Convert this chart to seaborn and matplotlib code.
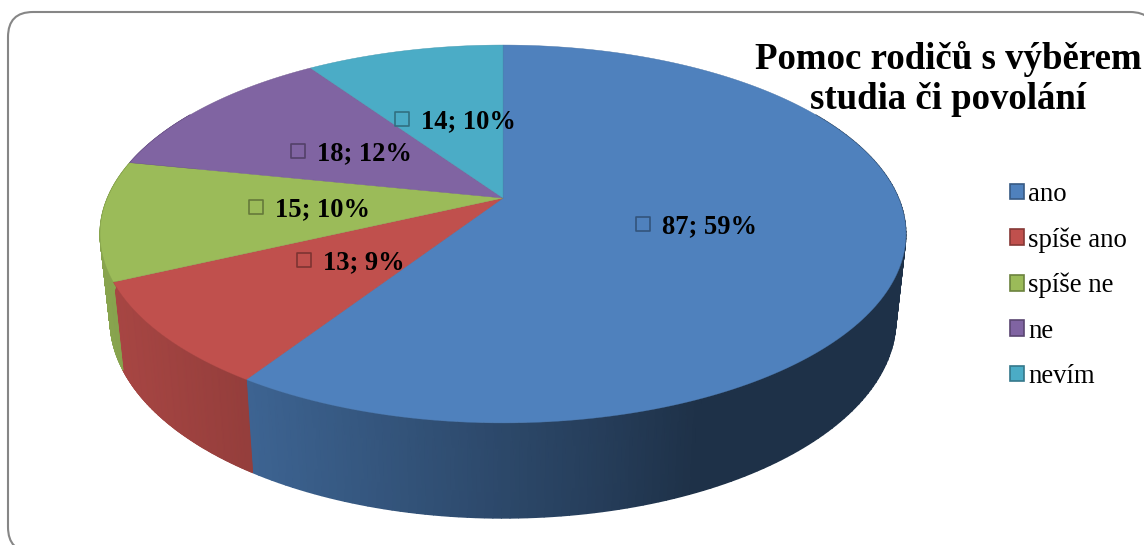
import numpy as np
import pandas as pd
import seaborn as sns
import matplotlib.pyplot as plt
from matplotlib.patches import FancyBboxPatch, Patch, Polygon

categories = ["ano", "spíše ano", "spíše ne", "ne", "nevím"]
counts = [87, 13, 15, 18, 14]
percents = [59, 9, 10, 12, 10]
title = "Pomoc rodičů s výběrem\nstudia či povolání"

# layout of the tilted pie, in pixels of the picture
CX = 503
TOP_Y, BOTTOM_Y = 198, 282
TOP_W, BOTTOM_W = 395.6, 385.8
TOP_H, BOTTOM_H = 182.1, 191.2
TILT = -0.1905
KEY_X = [643, 304, 256, 298, 402]
KEY_Y = [224, 260, 207, 151, 119]

sns.set_theme(style="white")
plt.rcParams["font.family"] = ["Liberation Serif", "DejaVu Serif"]
colors = sns.color_palette(["#4F81BD", "#C0504D", "#9BBB59", "#8064A2", "#4BACC6"])


def project(theta, w, h, y0):
    # theta runs clockwise from the top of the pie
    u, v = np.sin(theta), -np.cos(theta)
    d = 1 + TILT * v
    return CX + w * u / d, y0 + h * v / d


def shade(color, x):
    f = np.interp(x, [100, 250, 600, 700], [0.88, 0.77, 0.48, 0.38])
    return np.outer(f, color)


fig = plt.figure(figsize=(11.44, 5.45), dpi=100)
ax = fig.add_axes([0, 0, 1, 1])
ax.set_xlim(0, 1144)
ax.set_ylim(545, 0)
ax.axis("off")

ax.add_patch(FancyBboxPatch((8, 12), 1147, 540, boxstyle="round,pad=0,rounding_size=25",
                            fc="white", ec="#868686", lw=1.5))

edges = np.radians(np.cumsum([0] + counts) / sum(counts) * 360)

# side wall as a smooth mesh, only the part facing the viewer
for i, col in enumerate(colors):
    start = max(edges[i], np.radians(60))
    stop = min(edges[i + 1], np.radians(300))
    if stop <= start:
        continue
    th = np.linspace(start, stop, 150)
    xt, yt = project(th, TOP_W, TOP_H, TOP_Y)
    xb, yb = project(th, BOTTOM_W, BOTTOM_H, BOTTOM_Y)
    X = np.vstack([xt, xb])
    Y = np.vstack([yt, yb])
    rgb = np.stack([shade(col, xt), shade(col, xt)])
    ax.pcolormesh(X, Y, rgb, shading="gouraud", zorder=2)
ax.set_xlim(0, 1144)
ax.set_ylim(545, 0)

# top face
for i, col in enumerate(colors):
    th = np.linspace(edges[i], edges[i + 1], 200)
    xt, yt = project(th, TOP_W, TOP_H, TOP_Y)
    pts = np.column_stack([np.r_[CX, xt], np.r_[TOP_Y, yt]])
    ax.add_patch(Polygon(pts, fc=col, ec=tuple(c * 0.88 for c in col), lw=0.3, zorder=3))

# data labels with their little key squares
keys = pd.DataFrame({"x": KEY_X, "y": KEY_Y})
sns.scatterplot(data=keys, x="x", y="y", marker="s", s=90, fc="none",
                ec=[tuple(c * 0.65 for c in col) for col in colors],
                linewidth=1.2, legend=False, ax=ax, zorder=4)
for x, y, n, p in zip(KEY_X, KEY_Y, counts, percents):
    ax.text(x + 19, y + 3, f"{n}; {p}%", fontsize=19.1, fontweight="bold", color="black",
            ha="left", va="center", zorder=5)

ax.text(948, 79, title, fontsize=26.6, fontweight="bold", color="black", ha="center", va="center",
        linespacing=1.2, zorder=6)

handles = [Patch(fc=col, ec=tuple(c * 0.7 for c in col), lw=1.2, label=lab)
           for col, lab in zip(colors, categories)]
ax.legend(handles=handles, loc="upper left", bbox_to_anchor=(1010, 182), bbox_transform=ax.transData,
          frameon=False, fontsize=19.3, handlelength=0.52, handleheight=0.52, handletextpad=0.15,
          labelspacing=0.755, borderpad=0, borderaxespad=0, labelcolor="black")

fig.savefig("out.png", dpi=100)
